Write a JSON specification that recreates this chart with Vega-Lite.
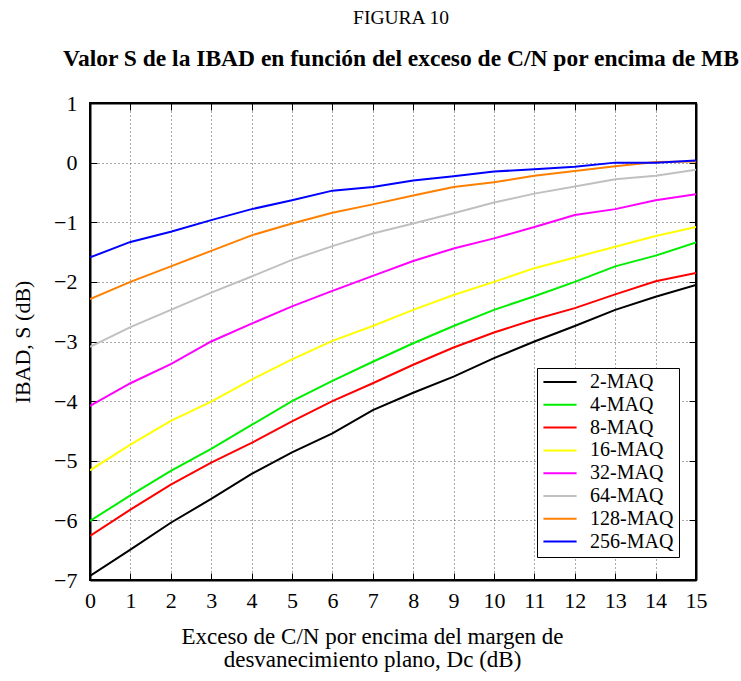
{
  "$schema": "https://vega.github.io/schema/vega-lite/v6.json",
  "width": 606,
  "height": 477,
  "autosize": {"type": "none"},
  "padding": {"left": 90, "top": 103, "right": 45, "bottom": 101},
  "background": "white",
  "config": {
    "font": "Liberation Serif",
    "view": {"stroke": "black", "strokeWidth": 2}
  },
  "title": {
    "text": "FIGURA 10",
    "subtitle": "Valor S de la IBAD en función del exceso de C/N por encima de MB",
    "font": "Liberation Serif",
    "fontSize": 19.5,
    "fontWeight": "normal",
    "subtitleFont": "Liberation Serif",
    "subtitleFontSize": 23.5,
    "subtitleFontWeight": "bold",
    "subtitleColor": "black",
    "subtitlePadding": 18,
    "color": "black",
    "anchor": "middle",
    "dx": 8,
    "offset": 21
  },
  "datasets": {
    "curves": [
      {"x":0,"v":-6.93,"m":"2-MAQ"},{"x":1,"v":-6.49,"m":"2-MAQ"},{"x":2,"v":-6.04,"m":"2-MAQ"},{"x":3,"v":-5.64,"m":"2-MAQ"},{"x":4,"v":-5.22,"m":"2-MAQ"},{"x":5,"v":-4.86,"m":"2-MAQ"},{"x":6,"v":-4.54,"m":"2-MAQ"},{"x":7,"v":-4.15,"m":"2-MAQ"},{"x":8,"v":-3.86,"m":"2-MAQ"},{"x":9,"v":-3.59,"m":"2-MAQ"},{"x":10,"v":-3.28,"m":"2-MAQ"},{"x":11,"v":-3.0,"m":"2-MAQ"},{"x":12,"v":-2.74,"m":"2-MAQ"},{"x":13,"v":-2.47,"m":"2-MAQ"},{"x":14,"v":-2.25,"m":"2-MAQ"},{"x":15,"v":-2.05,"m":"2-MAQ"},
      {"x":0,"v":-6.01,"m":"4-MAQ"},{"x":1,"v":-5.58,"m":"4-MAQ"},{"x":2,"v":-5.17,"m":"4-MAQ"},{"x":3,"v":-4.8,"m":"4-MAQ"},{"x":4,"v":-4.4,"m":"4-MAQ"},{"x":5,"v":-4.0,"m":"4-MAQ"},{"x":6,"v":-3.66,"m":"4-MAQ"},{"x":7,"v":-3.34,"m":"4-MAQ"},{"x":8,"v":-3.03,"m":"4-MAQ"},{"x":9,"v":-2.74,"m":"4-MAQ"},{"x":10,"v":-2.47,"m":"4-MAQ"},{"x":11,"v":-2.24,"m":"4-MAQ"},{"x":12,"v":-2.0,"m":"4-MAQ"},{"x":13,"v":-1.74,"m":"4-MAQ"},{"x":14,"v":-1.56,"m":"4-MAQ"},{"x":15,"v":-1.34,"m":"4-MAQ"},
      {"x":0,"v":-6.26,"m":"8-MAQ"},{"x":1,"v":-5.82,"m":"8-MAQ"},{"x":2,"v":-5.4,"m":"8-MAQ"},{"x":3,"v":-5.03,"m":"8-MAQ"},{"x":4,"v":-4.7,"m":"8-MAQ"},{"x":5,"v":-4.34,"m":"8-MAQ"},{"x":6,"v":-4.0,"m":"8-MAQ"},{"x":7,"v":-3.7,"m":"8-MAQ"},{"x":8,"v":-3.39,"m":"8-MAQ"},{"x":9,"v":-3.1,"m":"8-MAQ"},{"x":10,"v":-2.85,"m":"8-MAQ"},{"x":11,"v":-2.63,"m":"8-MAQ"},{"x":12,"v":-2.44,"m":"8-MAQ"},{"x":13,"v":-2.21,"m":"8-MAQ"},{"x":14,"v":-1.99,"m":"8-MAQ"},{"x":15,"v":-1.85,"m":"8-MAQ"},
      {"x":0,"v":-5.16,"m":"16-MAQ"},{"x":1,"v":-4.73,"m":"16-MAQ"},{"x":2,"v":-4.33,"m":"16-MAQ"},{"x":3,"v":-4.01,"m":"16-MAQ"},{"x":4,"v":-3.64,"m":"16-MAQ"},{"x":5,"v":-3.3,"m":"16-MAQ"},{"x":6,"v":-2.99,"m":"16-MAQ"},{"x":7,"v":-2.74,"m":"16-MAQ"},{"x":8,"v":-2.47,"m":"16-MAQ"},{"x":9,"v":-2.22,"m":"16-MAQ"},{"x":10,"v":-2.0,"m":"16-MAQ"},{"x":11,"v":-1.77,"m":"16-MAQ"},{"x":12,"v":-1.59,"m":"16-MAQ"},{"x":13,"v":-1.41,"m":"16-MAQ"},{"x":14,"v":-1.23,"m":"16-MAQ"},{"x":15,"v":-1.08,"m":"16-MAQ"},
      {"x":0,"v":-4.08,"m":"32-MAQ"},{"x":1,"v":-3.7,"m":"32-MAQ"},{"x":2,"v":-3.38,"m":"32-MAQ"},{"x":3,"v":-3.0,"m":"32-MAQ"},{"x":4,"v":-2.7,"m":"32-MAQ"},{"x":5,"v":-2.41,"m":"32-MAQ"},{"x":6,"v":-2.15,"m":"32-MAQ"},{"x":7,"v":-1.9,"m":"32-MAQ"},{"x":8,"v":-1.65,"m":"32-MAQ"},{"x":9,"v":-1.44,"m":"32-MAQ"},{"x":10,"v":-1.27,"m":"32-MAQ"},{"x":11,"v":-1.08,"m":"32-MAQ"},{"x":12,"v":-0.88,"m":"32-MAQ"},{"x":13,"v":-0.78,"m":"32-MAQ"},{"x":14,"v":-0.63,"m":"32-MAQ"},{"x":15,"v":-0.53,"m":"32-MAQ"},
      {"x":0,"v":-3.09,"m":"64-MAQ"},{"x":1,"v":-2.76,"m":"64-MAQ"},{"x":2,"v":-2.47,"m":"64-MAQ"},{"x":3,"v":-2.18,"m":"64-MAQ"},{"x":4,"v":-1.91,"m":"64-MAQ"},{"x":5,"v":-1.63,"m":"64-MAQ"},{"x":6,"v":-1.4,"m":"64-MAQ"},{"x":7,"v":-1.19,"m":"64-MAQ"},{"x":8,"v":-1.02,"m":"64-MAQ"},{"x":9,"v":-0.85,"m":"64-MAQ"},{"x":10,"v":-0.67,"m":"64-MAQ"},{"x":11,"v":-0.52,"m":"64-MAQ"},{"x":12,"v":-0.4,"m":"64-MAQ"},{"x":13,"v":-0.28,"m":"64-MAQ"},{"x":14,"v":-0.22,"m":"64-MAQ"},{"x":15,"v":-0.12,"m":"64-MAQ"},
      {"x":0,"v":-2.29,"m":"128-MAQ"},{"x":1,"v":-2.0,"m":"128-MAQ"},{"x":2,"v":-1.74,"m":"128-MAQ"},{"x":3,"v":-1.48,"m":"128-MAQ"},{"x":4,"v":-1.22,"m":"128-MAQ"},{"x":5,"v":-1.02,"m":"128-MAQ"},{"x":6,"v":-0.84,"m":"128-MAQ"},{"x":7,"v":-0.7,"m":"128-MAQ"},{"x":8,"v":-0.55,"m":"128-MAQ"},{"x":9,"v":-0.41,"m":"128-MAQ"},{"x":10,"v":-0.33,"m":"128-MAQ"},{"x":11,"v":-0.22,"m":"128-MAQ"},{"x":12,"v":-0.14,"m":"128-MAQ"},{"x":13,"v":-0.06,"m":"128-MAQ"},{"x":14,"v":0.01,"m":"128-MAQ"},{"x":15,"v":0.02,"m":"128-MAQ"},
      {"x":0,"v":-1.59,"m":"256-MAQ"},{"x":1,"v":-1.33,"m":"256-MAQ"},{"x":2,"v":-1.16,"m":"256-MAQ"},{"x":3,"v":-0.965,"m":"256-MAQ"},{"x":4,"v":-0.78,"m":"256-MAQ"},{"x":5,"v":-0.63,"m":"256-MAQ"},{"x":6,"v":-0.47,"m":"256-MAQ"},{"x":7,"v":-0.41,"m":"256-MAQ"},{"x":8,"v":-0.3,"m":"256-MAQ"},{"x":9,"v":-0.23,"m":"256-MAQ"},{"x":10,"v":-0.15,"m":"256-MAQ"},{"x":11,"v":-0.11,"m":"256-MAQ"},{"x":12,"v":-0.07,"m":"256-MAQ"},{"x":13,"v":0.0,"m":"256-MAQ"},{"x":14,"v":0.0,"m":"256-MAQ"},{"x":15,"v":0.035,"m":"256-MAQ"}
    ]
  },
  "data": {"name": "curves"},
  "layer": [
    {
      "mark": {"type": "line", "strokeWidth": 2, "clip": true},
      "encoding": {
        "x": {
          "field": "x", "type": "quantitative",
          "scale": {"domain": [0, 15], "nice": false},
          "axis": {
            "orient": "bottom",
            "values": [0,1,2,3,4,5,6,7,8,9,10,11,12,13,14,15],
            "format": "d",
            "title": ["Exceso de C/N por encima del margen de", "desvanecimiento plano, Dc (dB)"],
            "titleFont": "Liberation Serif",
            "titleFontSize": 23,
            "titleFontWeight": "normal",
            "titleColor": "black",
            "titleLineHeight": 23,
            "titlePadding": 14,
            "titleX": 282,
            "labelFont": "Liberation Serif",
            "labelFontSize": 22,
            "labelColor": "black",
            "labelPadding": 17,
            "labelFlush": false,
            "labelOverlap": false,
            "tickSize": -7,
            "tickColor": "black",
            "domainColor": "black",
            "domainWidth": 2,
            "grid": true,
            "gridColor": "#555555",
            "gridDash": [1, 3],
            "gridWidth": 1,
            "gridOpacity": 1
          }
        },
        "y": {
          "field": "v", "type": "quantitative",
          "scale": {"domain": [-7, 1], "nice": false},
          "axis": {
            "orient": "left",
            "values": [-7,-6,-5,-4,-3,-2,-1,0,1],
            "format": "d",
            "title": "IBAD, S (dB)",
            "titleFont": "Liberation Serif",
            "titleFontSize": 22,
            "titleFontWeight": "normal",
            "titleColor": "black",
            "titlePadding": 19,
            "labelFont": "Liberation Serif",
            "labelFontSize": 22,
            "labelColor": "black",
            "labelPadding": 20,
            "labelFlush": false,
            "labelOverlap": false,
            "tickSize": -7,
            "tickColor": "black",
            "domainColor": "black",
            "domainWidth": 2,
            "grid": true,
            "gridColor": "#555555",
            "gridDash": [1, 3],
            "gridWidth": 1,
            "gridOpacity": 1
          }
        },
        "color": {
          "field": "m", "type": "nominal",
          "scale": {
            "domain": ["2-MAQ","4-MAQ","8-MAQ","16-MAQ","32-MAQ","64-MAQ","128-MAQ","256-MAQ"],
            "range": ["#000000","#00ee00","#ff0000","#ffff00","#ff00ff","#c0c0c0","#ff8000","#0000ff"]
          },
          "legend": {
            "orient": "none",
            "legendX": 447,
            "legendY": 265,
            "title": null,
            "fillColor": "white",
            "strokeColor": "black",
            "padding": 5,
            "symbolType": "stroke",
            "symbolSize": 1100,
            "symbolStrokeWidth": 2,
            "clipHeight": 18,
            "labelFont": "Liberation Serif",
            "labelFontSize": 20,
            "labelColor": "black",
            "labelOffset": 12,
            "rowPadding": 2.8
          }
        }
      }
    },
    {
      "mark": {"type": "line", "opacity": 0},
      "encoding": {
        "x": {
          "field": "x", "type": "quantitative",
          "axis": {"orient": "top", "values": [0,1,2,3,4,5,6,7,8,9,10,11,12,13,14,15], "labels": false, "title": null, "tickSize": -7, "tickColor": "black", "domainColor": "black", "domainWidth": 2, "grid": false}
        },
        "y": {
          "field": "v", "type": "quantitative",
          "axis": {"orient": "right", "values": [-7,-6,-5,-4,-3,-2,-1,0,1], "labels": false, "title": null, "tickSize": -7, "tickColor": "black", "domainColor": "black", "domainWidth": 2, "grid": false}
        },
        "detail": {"field": "m"}
      }
    }
  ],
  "resolve": {"axis": {"x": "independent", "y": "independent"}}
}
